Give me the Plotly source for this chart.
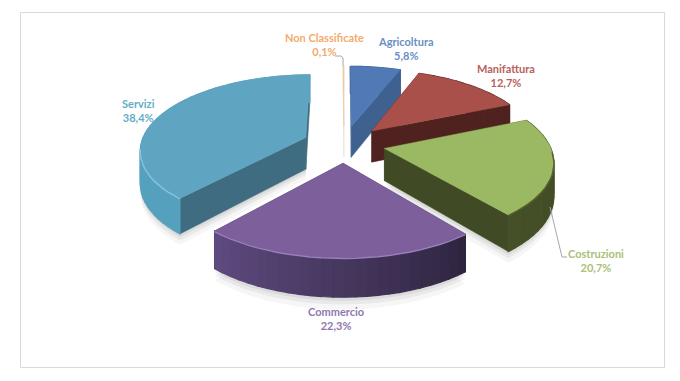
import math
import numpy as np
import plotly.graph_objects as go

categories = ["Agricoltura", "Manifattura", "Costruzioni", "Commercio", "Servizi", "Non Classificate"]
shares = [5.8, 12.7, 20.7, 22.3, 38.4, 0.1]
share_labels = ["5,8%", "12,7%", "20,7%", "22,3%", "38,4%", "0,1%"]

top_colors = ["#5079b5", "#aa504a", "#9bb862", "#7c5f9b", "#5fa5c2", "#f3c4a0"]
side_colors = ["#3f6190", "#4f2220", "#404a24", "#4a3760", "#3f6c80", "#e0d8d0"]
rim_from = ["#3f6190", "#4f2220", "#404a22", "#2f2540", "#55a0bc", "#e0d8d0"]
rim_to = ["#3f6190", "#4f2220", "#465028", "#5e4a7e", "#5aa5c2", "#e0d8d0"]
edge_colors = ["#6d95cc", "#c06a62", "#596330", "#9a80bb", "#86c4dc", "#f0a868"]
text_colors = ["#6a8fc4", "#b9605b", "#a9c178", "#8f78ad", "#62aec8", "#f2ab6e"]
label_px = [(406, 48), (506, 75), (596, 260), (336, 318), (138, 110), (324, 44)]

CX, CY, RX, RY, PERSP, EXPLODE, THICK = 344, 144, 165, 74, 0.15, 0.25, 32


def project(x, y, z=0.0):
    s = 1 / (1 - PERSP * y)
    return CX + RX * x * s, CY + RY * y * s + z * s


def mix(c1, c2, t):
    a = [int(c1[i:i + 2], 16) for i in (1, 3, 5)]
    b = [int(c2[i:i + 2], 16) for i in (1, 3, 5)]
    return "rgb(%d,%d,%d)" % tuple(round(a[i] + (b[i] - a[i]) * t) for i in range(3))


fig = go.Figure()


def poly(pts, color, width=1.0, line=None):
    xs = [p[0] for p in pts] + [pts[0][0]]
    ys = [p[1] for p in pts] + [pts[0][1]]
    fig.add_trace(go.Scatter(x=xs, y=ys, mode="lines", fill="toself", fillcolor=color,
                             line=dict(color=line or color, width=width),
                             hoverinfo="skip", showlegend=False))


def path(xs, ys, color, width):
    fig.add_trace(go.Scatter(x=xs, y=ys, mode="lines", line=dict(color=color, width=width),
                             hoverinfo="skip", showlegend=False))


slices = []
start = 0.0
for i, share in enumerate(shares):
    end = start + share / sum(shares) * 2 * math.pi
    slices.append((i, start, end))
    start = end


def geometry(a0, a1):
    mid = (a0 + a1) / 2
    ox, oy = EXPLODE * math.sin(mid), -EXPLODE * math.cos(mid)
    n = max(3, int((a1 - a0) / math.radians(3)))
    angles = np.linspace(a0, a1, n)
    arc = [(ox + math.sin(t), oy - math.cos(t)) for t in angles]
    return (ox, oy), arc, angles


# soft shadows under the slices
for i, a0, a1 in slices:
    apex, arc, _ = geometry(a0, a1)
    if i in (2, 3, 4):
        for extra, alpha in ((10, 0.035), (6, 0.05), (3, 0.06)):
            poly([project(*apex, THICK + extra)] + [project(x, y, THICK + extra) for x, y in arc],
                 "rgba(0,0,0,%s)" % alpha, width=0, line="rgba(0,0,0,0)")

draw_order = [5, 0, 1, 4, 2, 3]
for i in draw_order:
    _, a0, a1 = slices[i]
    apex, arc, angles = geometry(a0, a1)
    thin = i == 5
    # radial cut faces
    for p in (arc[0], arc[-1]):
        poly([project(*apex), project(*p), project(*p, THICK), project(*apex, THICK)], side_colors[i],
             width=0.3 if thin else 0.5)
    # outer rim
    m = len(arc)
    for k in range(m - 1):
        t = k / max(1, m - 2)
        col = mix(rim_from[i], rim_to[i], t)
        poly([project(*arc[k]), project(*arc[k + 1]),
              project(*arc[k + 1], THICK), project(*arc[k], THICK)], col, width=0.3 if thin else 1.2)
    # top surface
    poly([project(*apex)] + [project(x, y) for x, y in arc], top_colors[i], width=0.5)
    # highlight along the front rim
    front = [p for p in arc if p[1] > 0.05]
    if front and i in (2, 3, 4):
        pts = [project(*p, 0.5) for p in front]
        path([p[0] for p in pts], [p[1] for p in pts], edge_colors[i], 1.4)

# leader lines
path([335, 341, 343, 343], [56, 56, 58, 66], "#a6a6a6", 1)
path([550, 562, 567], [207, 257, 257], "#a6a6a6", 1)

annotations = []
for name, lab, col, (lx, ly) in zip(categories, share_labels, text_colors, label_px):
    annotations.append(dict(x=lx, y=ly, xref="x", yref="y", showarrow=False,
                            text=f"<b>{name}<br>{lab}</b>", align="center",
                            font=dict(family="Lato", size=11, color=col)))

fig.update_layout(
    width=680, height=381, margin=dict(l=0, r=0, t=0, b=0),
    paper_bgcolor="white", plot_bgcolor="white", showlegend=False,
    xaxis=dict(range=[0, 680], visible=False, fixedrange=True),
    yaxis=dict(range=[381, 0], visible=False, fixedrange=True),
    annotations=annotations,
    shapes=[dict(type="rect", xref="x", yref="y", x0=20.5, y0=12.5, x1=664.5, y1=367.5,
                 line=dict(color="#d9d9d9", width=1), fillcolor="rgba(0,0,0,0)", layer="below")],
)
fig.write_html("out.html", config=dict(displayModeBar=False),
               post_script="document.documentElement.style.margin='0';document.body.style.margin='0';document.body.style.overflow='hidden';")
